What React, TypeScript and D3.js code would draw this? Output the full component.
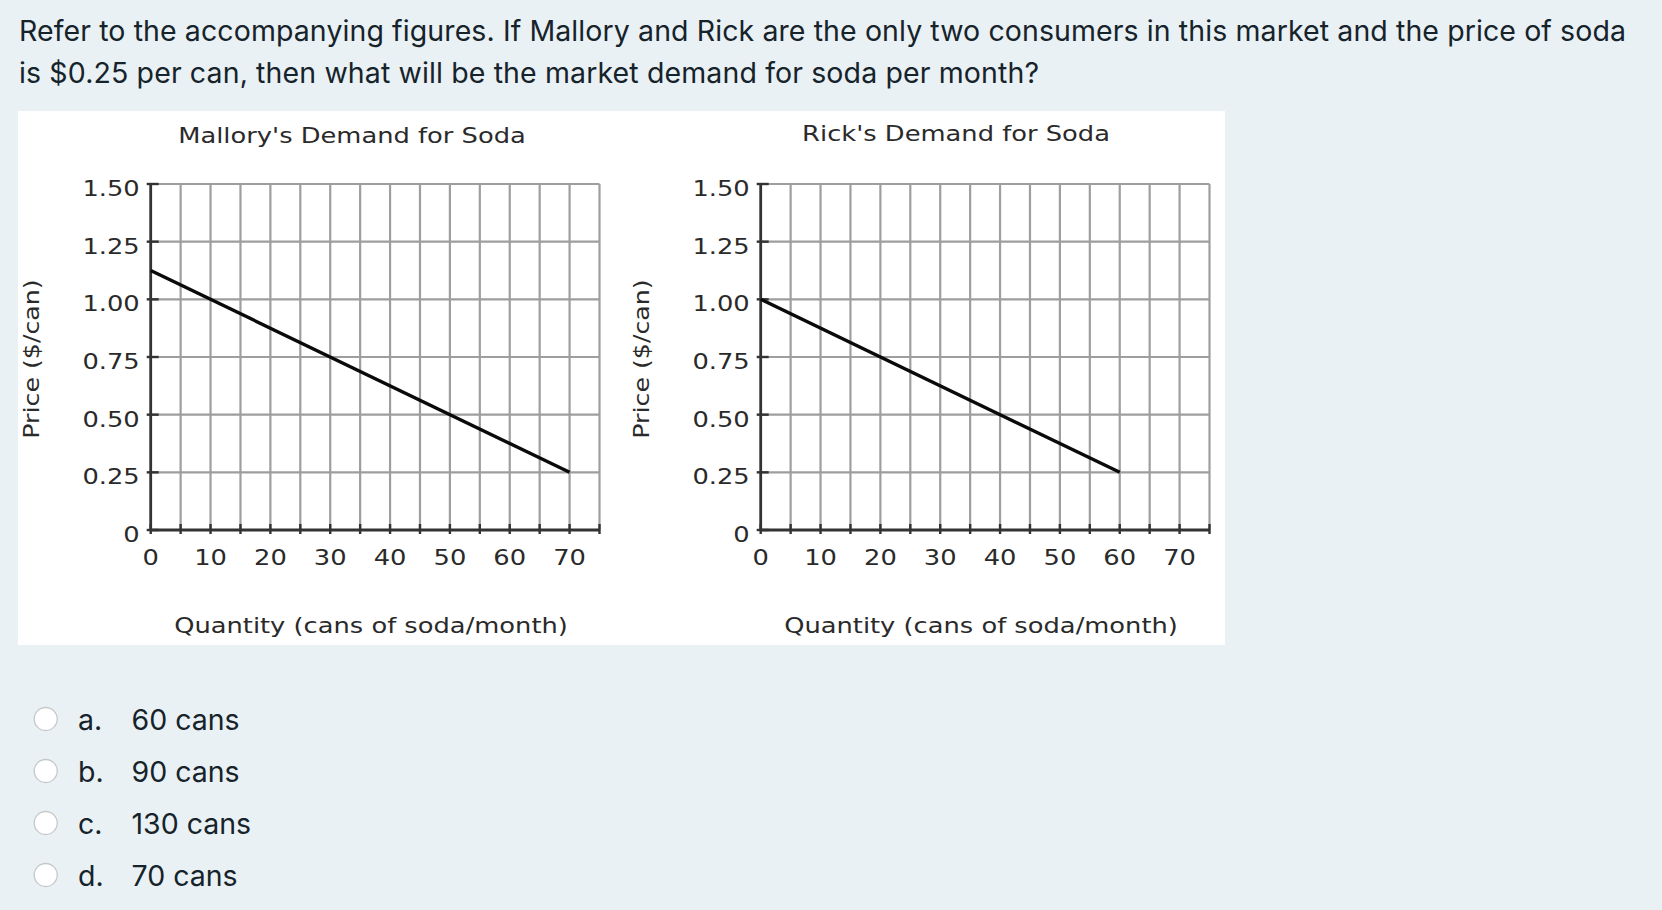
import React from "react";
import * as d3 from "d3";

// ---- data ----
const questionLines = [
  "Refer to the accompanying figures. If Mallory and Rick are the only two consumers in this market and the price of soda",
  "is $0.25 per can, then what will be the market demand for soda per month?",
];
const questionLineWidths = [1607, 1020];
const optionLetters = ["a.", "b.", "c.", "d."];
const optionTexts = ["60 cans", "90 cans", "130 cans", "70 cans"];

const quantityTicks = [0, 10, 20, 30, 40, 50, 60, 70];
const quantityGrid = [0, 5, 10, 15, 20, 25, 30, 35, 40, 45, 50, 55, 60, 65, 70, 75];
const priceTicks = [0, 0.25, 0.5, 0.75, 1.0, 1.25, 1.5];
const priceTickLabels = ["0", "0.25", "0.50", "0.75", "1.00", "1.25", "1.50"];

const malloryQuantity = [0, 70];
const malloryPrice = [1.125, 0.25];
const rickQuantity = [0, 60];
const rickPrice = [1.0, 0.25];

const W = 1662;
const H = 910;
const BG = "#e9f1f4";
const TEXT = "#16232b";
const CHART_TEXT = "#2a2a2a";
const CHART_FONT = "'DejaVu Sans', Verdana, sans-serif";
const UI_FONT = "Inter, 'Open Sans', Roboto, sans-serif";
const SX = 1.17;

type ChartProps = {
  dx: number;
  title: string;
  titleX: number;
  titleY: number;
  qs: number[];
  ps: number[];
};

function DemandChart({ dx, title, titleX, titleY, qs, ps }: ChartProps) {
  const x = d3.scaleLinear().domain([0, 75]).range([150.7 + dx, 599.5 + dx]);
  const y = d3.scaleLinear().domain([0, 1.5]).range([530, 184]);
  const pts: [number, number][] = qs.map((q, i) => [q, ps[i]]);
  const line = d3
    .line<[number, number]>()
    .x((d) => x(d[0]))
    .y((d) => y(d[1]));
  const x0 = x(0);
  const y0 = y(0);
  return (
    <g>
      <text
        transform={`translate(${titleX + dx},${titleY}) scale(${SX},1)`}
        textAnchor="middle"
        fontFamily={CHART_FONT}
        fontSize={22}
        fill={CHART_TEXT}
      >
        {title}
      </text>
      {/* grid */}
      {quantityGrid
        .filter((q) => q > 0)
        .map((q) => (
          <line
            key={"gv" + q}
            x1={x(q)}
            x2={x(q)}
            y1={y(0)}
            y2={y(1.5)}
            stroke="#9e9e9e"
            strokeWidth={2.2}
          />
        ))}
      {priceTicks
        .filter((p) => p > 0)
        .map((p) => (
          <line
            key={"gh" + p}
            x1={x(0)}
            x2={x(75)}
            y1={y(p)}
            y2={y(p)}
            stroke="#9e9e9e"
            strokeWidth={2.2}
          />
        ))}
      {/* axes */}
      <line x1={x0} x2={x0} y1={y(1.5) - 1} y2={y0 + 1} stroke="#333" strokeWidth={2.8} />
      <line x1={x0} x2={x(75)} y1={y0} y2={y0} stroke="#333" strokeWidth={2.8} />
      {priceTicks.map((p, i) => (
        <g key={"yt" + p}>
          <line x1={x0 - 4} x2={x0 + 8} y1={y(p)} y2={y(p)} stroke="#333" strokeWidth={2.4} />
          <text
            transform={`translate(${x0 - 11},${y(p) + 12}) scale(${SX},1)`}
            textAnchor="end"
            fontFamily={CHART_FONT}
            fontSize={22}
            fill={CHART_TEXT}
          >
            {priceTickLabels[i]}
          </text>
        </g>
      ))}
      {quantityGrid.map((q) => (
        <line key={"xt" + q} x1={x(q)} x2={x(q)} y1={y0 - 6} y2={y0 + 4} stroke="#333" strokeWidth={2.4} />
      ))}
      {quantityTicks.map((q) => (
        <text
          key={"xl" + q}
          transform={`translate(${x(q)},${564.5}) scale(${SX},1)`}
          textAnchor="middle"
          fontFamily={CHART_FONT}
          fontSize={22}
          fill={CHART_TEXT}
        >
          {q}
        </text>
      ))}
      {/* demand line */}
      <path d={line(pts) || ""} fill="none" stroke="#0a0a0a" strokeWidth={3.4} />
      {/* axis titles */}
      <text
        transform={`translate(${371 + dx},${633}) scale(${SX},1)`}
        textAnchor="middle"
        fontFamily={CHART_FONT}
        fontSize={22}
        fill={CHART_TEXT}
      >
        Quantity (cans of soda/month)
      </text>
      <text
        transform={`translate(${39 + dx},${359}) rotate(-90) scale(1.15,1)`}
        textAnchor="middle"
        fontFamily={CHART_FONT}
        fontSize={22}
        fill={CHART_TEXT}
      >
        Price ($/can)
      </text>
    </g>
  );
}

export default function App() {
  const optionY = [719, 771, 823, 875];
  return (
    <svg
      width={W}
      height={H}
      style={{ position: "absolute", left: 0, top: 0, display: "block" }}
      xmlns="http://www.w3.org/2000/svg"
    >
      <rect x={0} y={0} width={W} height={H} fill={BG} />
      {questionLines.map((t, i) => (
        <text
          key={i}
          x={19}
          y={40.5 + i * 42.6}
          fontFamily={UI_FONT}
          fontSize={28.5}
          fill={TEXT}
          textLength={questionLineWidths[i]}
          lengthAdjust="spacing"
        >
          {t}
        </text>
      ))}
      <rect x={18} y={111} width={1207} height={534} fill="#ffffff" />
      <DemandChart dx={0} title="Mallory's Demand for Soda" titleX={352} titleY={143} qs={malloryQuantity} ps={malloryPrice} />
      <DemandChart dx={610} title="Rick's Demand for Soda" titleX={346} titleY={141} qs={rickQuantity} ps={rickPrice} />
      {optionLetters.map((l, i) => (
        <g key={l}>
          <circle cx={45.7} cy={optionY[i]} r={11.5} fill="#ffffff" stroke="#c6c9cb" strokeWidth={1.3} />
          <text x={78} y={optionY[i] + 11} fontFamily={UI_FONT} fontSize={28.5} fill={TEXT}>
            {l}
          </text>
          <text x={131.5} y={optionY[i] + 11} fontFamily={UI_FONT} fontSize={28.5} fill={TEXT}>
            {optionTexts[i]}
          </text>
        </g>
      ))}
    </svg>
  );
}
